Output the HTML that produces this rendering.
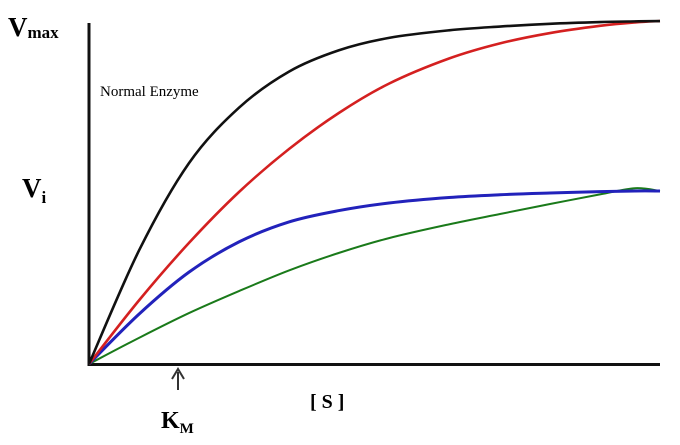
<!DOCTYPE html>
<html><head><meta charset="utf-8"><style>
html,body{margin:0;padding:0;background:#fff;width:680px;height:445px;overflow:hidden}
svg text{font-family:"Liberation Serif",serif}
</style></head><body>
<svg id="chart" width="680" height="445">
<line x1="89" y1="23" x2="89" y2="366" stroke="#111" stroke-width="3"/>
<line x1="88" y1="364.5" x2="660" y2="364.5" stroke="#111" stroke-width="3"/>
<text x="8" y="36" font-size="27" font-weight="bold">V<tspan font-size="17" dy="2">max</tspan></text>
<text x="22" y="197" font-size="27" font-weight="bold">V<tspan font-size="17" dy="6">i</tspan></text>
<text x="100" y="96" font-size="15">Normal Enzyme</text>
<text x="310" y="408" font-size="20" font-weight="bold">[ S ]</text>
<text x="161" y="428" font-size="24" font-weight="bold">K<tspan font-size="15" dy="5">M</tspan></text>
<g><line x1="178" y1="390" x2="178" y2="372" stroke="#333" stroke-width="2"/><path d="M172,379 L178,369 L184,379" fill="none" stroke="#333" stroke-width="2"/></g>
<g id="series"></g>
</svg>
<script>
const sValues=[0,0.876,1.751,2.627,3.503,4.378,5.254,6.305,7.198,8.074,8.949,9.562,10];
const normalV=[0,33,58.4,74.5,85,91.2,94.8,97,98.1,98.9,99.4,99.6,99.7];
const redV=[0,18.5,35.2,50,62.5,73,81.5,88.8,93.2,96.2,98.3,99.3,99.7];
const blueV=[0,14.5,26.7,35.5,41.3,44.6,46.8,48.4,49.2,49.7,50.1,50.3,50.3];
const greenV=[0,7.6,14.8,21.2,27.2,32.3,36.6,40.6,43.6,46.5,49.3,51.1,50.3];
const xS=s=>89+s*57.1;
const yV=v=>364-v*3.44;
function path(vals){
 const p=sValues.map((s,i)=>[xS(s),yV(vals[i])]);
 let d=`M${p[0][0]},${p[0][1]}`;
 for(let i=0;i<p.length-1;i++){
  const p0=p[Math.max(0,i-1)],p1=p[i],p2=p[i+1],p3=p[Math.min(p.length-1,i+2)];
  const c1=[p1[0]+(p2[0]-p0[0])/6,p1[1]+(p2[1]-p0[1])/6];
  const c2=[p2[0]-(p3[0]-p1[0])/6,p2[1]-(p3[1]-p1[1])/6];
  d+=` C${c1[0]},${c1[1]} ${c2[0]},${c2[1]} ${p2[0]},${p2[1]}`;
 }
 return d;
}
const g=document.getElementById('series');
const defs=[[greenV,'#1a7a1a',2,'green-curve'],[blueV,'#2222bb',3,'blue-curve'],[redV,'#d42020',2.6,'red-curve'],[normalV,'#111',2.6,'normal-enzyme-curve']];
defs.forEach(([v,c,w,n])=>{
 const el=document.createElementNS('http://www.w3.org/2000/svg','path');
 el.setAttribute('d',path(v));el.setAttribute('fill','none');el.setAttribute('stroke',c);el.setAttribute('stroke-width',w);
 
 
 g.appendChild(el);
});
</script>
</body></html>
